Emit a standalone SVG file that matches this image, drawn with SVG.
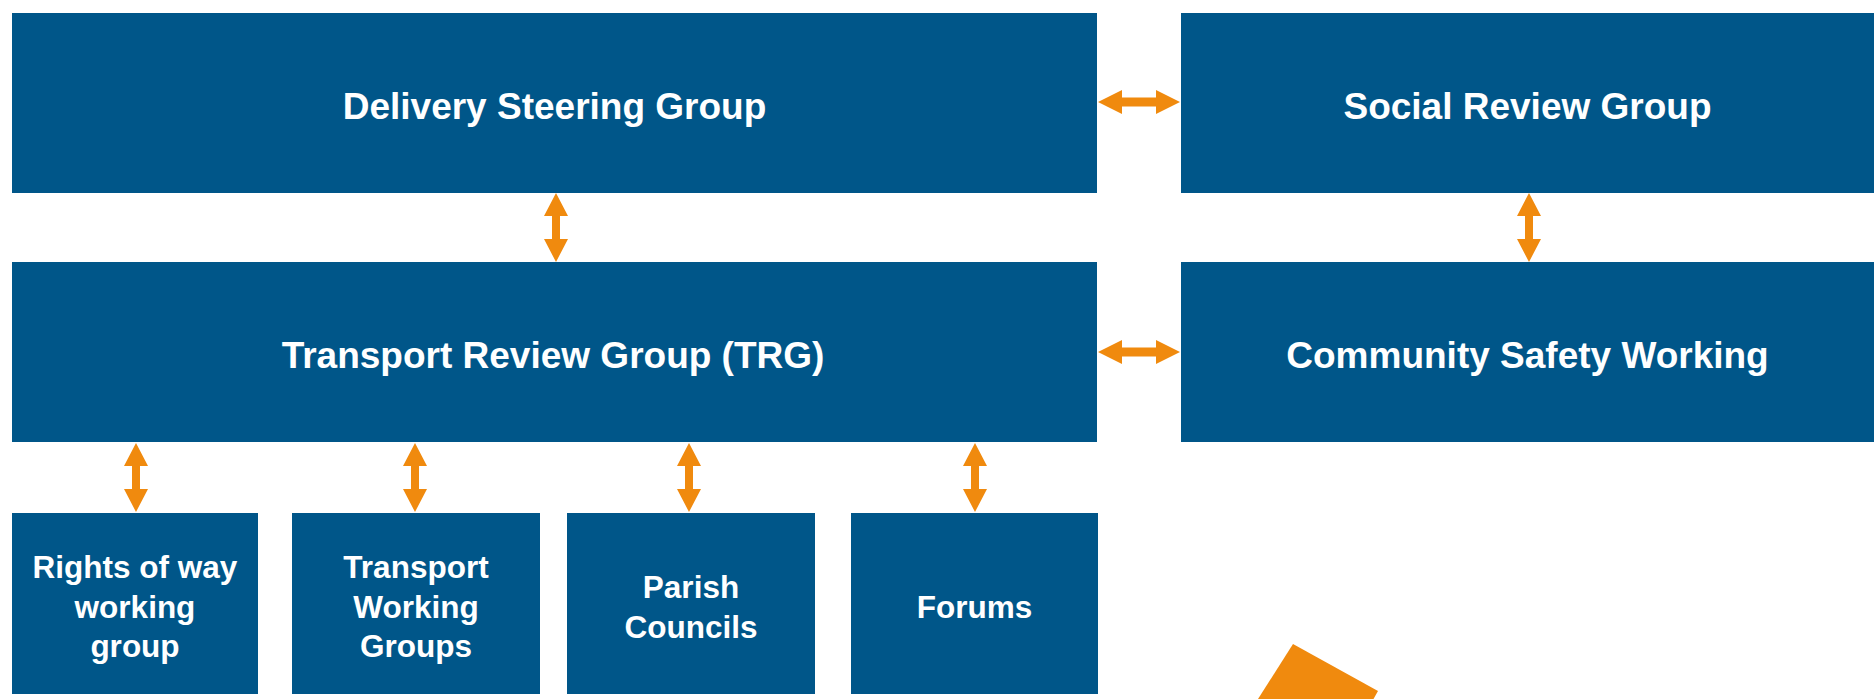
<svg xmlns="http://www.w3.org/2000/svg" xmlns:xlink="http://www.w3.org/1999/xlink" width="1876" height="699" viewBox="0 0 1876 699">
  <style>
    .box { fill: #005689; }
    .lbl { fill: #ffffff; font-family: "Liberation Sans", Arial, sans-serif; font-weight: bold; text-anchor: middle; }
    .big { font-size: 37px; }
    .sm { font-size: 31.5px; }
    .arr { fill: #F08A0E; }
  </style>
  <defs>
    <path id="harr" d="M0,0 L24,-12 L24,-4.5 L58,-4.5 L58,-12 L82,0 L58,12 L58,4.5 L24,4.5 L24,12 Z"/>
    <path id="varr" d="M0,0 L-12,23 L-4,23 L-4,46 L-12,46 L0,69 L12,46 L4,46 L4,23 L12,23 Z"/>
  </defs>
  <rect width="1876" height="699" fill="#ffffff"/>

  <g id="connectors" class="arr">
    <use xlink:href="#harr" x="1098" y="102"/>
    <use xlink:href="#harr" x="1098" y="352"/>
    <use xlink:href="#varr" x="556" y="193"/>
    <use xlink:href="#varr" x="1529" y="193"/>
    <use xlink:href="#varr" x="136" y="443"/>
    <use xlink:href="#varr" x="415" y="443"/>
    <use xlink:href="#varr" x="689" y="443"/>
    <use xlink:href="#varr" x="975" y="443"/>
  </g>

  <g id="delivery-steering-group">
    <rect class="box" x="12" y="13" width="1085" height="180"/>
    <text class="lbl big" x="554.5" y="119">Delivery Steering Group</text>
  </g>
  <g id="social-review-group">
    <rect class="box" x="1181" y="13" width="693" height="180"/>
    <text class="lbl big" x="1527.5" y="119">Social Review Group</text>
  </g>
  <g id="transport-review-group">
    <rect class="box" x="12" y="262" width="1085" height="180"/>
    <text class="lbl big" x="553" y="368">Transport Review Group (TRG)</text>
  </g>
  <g id="community-safety-working">
    <rect class="box" x="1181" y="262" width="693" height="180"/>
    <text class="lbl big" x="1527.5" y="368">Community Safety Working</text>
  </g>
  <g id="rights-of-way">
    <rect class="box" x="12" y="513" width="246" height="181"/>
    <text class="lbl sm" x="135" y="578">Rights of way</text>
    <text class="lbl sm" x="135" y="617.5">working</text>
    <text class="lbl sm" x="135" y="657">group</text>
  </g>
  <g id="transport-working-groups">
    <rect class="box" x="292" y="513" width="248" height="181"/>
    <text class="lbl sm" x="416" y="578">Transport</text>
    <text class="lbl sm" x="416" y="617.5">Working</text>
    <text class="lbl sm" x="416" y="657">Groups</text>
  </g>
  <g id="parish-councils">
    <rect class="box" x="567" y="513" width="248" height="181"/>
    <text class="lbl sm" x="691" y="598">Parish</text>
    <text class="lbl sm" x="691" y="637.5">Councils</text>
  </g>
  <g id="forums">
    <rect class="box" x="851" y="513" width="247" height="181"/>
    <text class="lbl sm" x="974.5" y="618">Forums</text>
  </g>

  <polygon class="arr" points="1293,644 1378,691 1373.5,699 1258,699"/>
</svg>
